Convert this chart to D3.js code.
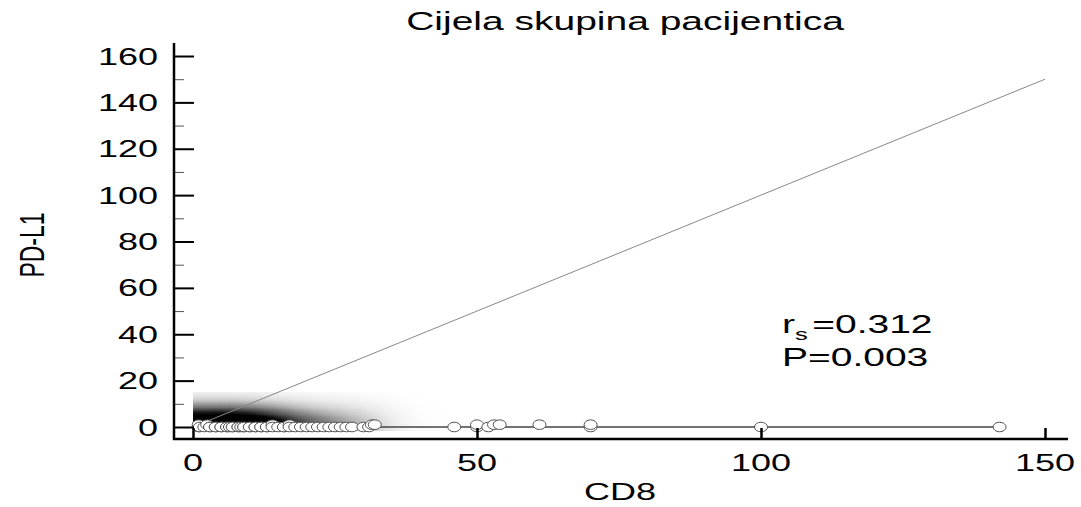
<!DOCTYPE html>
<html>
<head>
<meta charset="utf-8">
<script src="https://cdn.jsdelivr.net/npm/d3@7"></script>
<style>
    body { margin: 0; background: #fff; }
    svg text { font-family: "Liberation Sans", Arial, sans-serif; fill: #000; }
</style>
</head>
<body>
<svg id="chart" width="1081" height="507"></svg>
<script>
    // values (several patients overlap at low CD8)
    var cd8 = [1, 1, 1.2, 2, 2.5, 3, 3, 4, 4, 5, 5, 6, 6, 6.5, 7, 7, 8, 8, 8.5, 9, 9, 10, 10, 11, 11, 12, 12,
               13, 13, 14, 14, 15, 16, 16, 17, 17, 18, 19, 20, 21, 22, 23, 24, 25, 26, 27, 28, 30, 31, 31.5, 32,
               46, 50, 50, 52, 53, 54, 61, 70, 70, 100, 142];
    var pdl1 = [0, 1, 0, 0, 1, 0, 0, 0, 0, 0, 0, 0, 0, 0, 0, 0, 0, 0, 0, 0, 0, 0, 0, 0, 0, 0, 0,
                0, 0, 1, 0, 0, 0, 0, 1, 0, 0, 0, 0, 0, 0, 0, 0, 0, 0, 0, 0, 0, 0, 1, 1,
                0, 0, 1, 0, 1, 1, 1, 0, 1, 0, 0];
    var xTicks = [0, 50, 100, 150];
    var yTicks = [0, 20, 40, 60, 80, 100, 120, 140, 160];
    var yMinor = [10, 30, 50, 70, 90, 110, 130, 150];
    var title = "Cijela skupina pacijentica",
        xLabel = "CD8",
        yLabel = "PD-L1",
        rsText = "=0.312",
        pText = "P=0.003";

    var svg = d3.select("#chart"),
        STRETCH = 1.5;

    var x = d3.scaleLinear().domain([0, 150]).range([193, 1045]),
        y = d3.scaleLinear().domain([0, 160]).range([427, 56]);

    var axisX = 174, axisY = 439;

    // text that looks pulled wide like the original
    function wideText(parent, px, py, str, size, anchor) {
        return parent.append("text")
            .attr("transform", "translate(" + px + "," + py + ") scale(" + STRETCH + ",1)")
            .attr("text-anchor", anchor || "start")
            .style("font-size", size + "px")
            .text(str);
    }

    // density shading of the main cluster, kernel reflected at both axes
    var sx = 5.5, sy = 7.5, cellW = 0.5, cellH = 0.5, cells = [];
    var gx, gy, i, d, maxD = 0;
    function kern(u, v) { return Math.exp(-0.5 * (u * u + v * v)); }
    for (gx = 0; gx < 45; gx += cellW) {
        for (gy = -1.5; gy < 15; gy += cellH) {
            d = 0;
            var cx = gx + cellW / 2, cy = Math.max(0, gy + cellH / 2);
            for (i = 0; i < cd8.length; i++) {
                if (cd8[i] > 40) { continue; }
                var ax = (cx - cd8[i]) / sx, bx = (cx + cd8[i]) / sx,
                    ay = (cy - pdl1[i]) / sy, by = (cy + pdl1[i]) / sy;
                d += kern(ax, ay) + kern(bx, ay) + kern(ax, by) + kern(bx, by);
            }
            maxD = Math.max(maxD, d);
            cells.push({x: gx, y: gy, d: d});
        }
    }
    svg.append("g").attr("class", "density")
        .selectAll("rect").data(cells).enter().append("rect")
        .attr("x", function (c) { return x(c.x); })
        .attr("y", function (c) { return y(c.y + cellH); })
        .attr("width", x(cellW) - x(0) + 0.6)
        .attr("height", y(0) - y(cellH) + 0.6)
        .attr("fill", function (c) {
            var t = c.d / maxD;
            return d3.interpolateGreys(Math.min(1, 1.45 * Math.pow(t, 1.2)));
        });

    // identity line
    svg.append("line")
        .attr("x1", x(0)).attr("y1", y(0))
        .attr("x2", x(150)).attr("y2", y(150))
        .attr("stroke", "#888").attr("stroke-width", 1);

    // horizontal line along PD-L1 = 0
    svg.append("line")
        .attr("x1", x(0)).attr("y1", y(0))
        .attr("x2", x(d3.max(cd8))).attr("y2", y(0))
        .attr("stroke", "#444").attr("stroke-width", 1.3);

    // points
    svg.append("g").attr("class", "points")
        .selectAll("ellipse").data(cd8).enter().append("ellipse")
        .attr("cx", function (v) { return x(v); })
        .attr("cy", function (v, k) { return y(pdl1[k]); })
        .attr("rx", 6.5).attr("ry", 4.8)
        .attr("fill", "#fff")
        .attr("stroke", "#555")
        .attr("stroke-width", 1);

    // y axis
    var gy1 = svg.append("g").attr("transform", "translate(" + axisX + ",0)")
        .call(d3.axisLeft(y).tickValues(yTicks).tickSizeInner(-20).tickSizeOuter(0));
    gy1.select(".domain").remove();
    gy1.selectAll(".tick line").attr("stroke", "#000").attr("stroke-width", 2);
    gy1.selectAll(".tick text").remove();
    yTicks.forEach(function (t) {
        wideText(svg, 158, y(t) + 8.5, String(t), 24, "end");
    });
    var gy2 = svg.append("g").attr("transform", "translate(" + axisX + ",0)")
        .call(d3.axisLeft(y).tickValues(yMinor).tickSizeInner(-10).tickSizeOuter(0).tickFormat(""));
    gy2.select(".domain").remove();
    gy2.selectAll(".tick line").attr("stroke", "#555").attr("stroke-width", 1);

    svg.append("line")
        .attr("x1", axisX).attr("y1", 43)
        .attr("x2", axisX).attr("y2", axisY + 1)
        .attr("stroke", "#000").attr("stroke-width", 2.5);

    // x axis
    var gx1 = svg.append("g").attr("transform", "translate(0," + axisY + ")")
        .call(d3.axisBottom(x).tickValues(xTicks).tickSizeInner(-11).tickSizeOuter(0));
    gx1.select(".domain").remove();
    gx1.selectAll(".tick line").attr("stroke", "#000").attr("stroke-width", 2.5);
    gx1.selectAll(".tick text").remove();
    xTicks.forEach(function (t) {
        wideText(svg, x(t), 471, String(t), 24, "middle");
    });
    svg.append("line")
        .attr("x1", axisX - 1).attr("y1", axisY)
        .attr("x2", 1068).attr("y2", axisY)
        .attr("stroke", "#000").attr("stroke-width", 2.5);

    // titles
    wideText(svg, 625, 30, title, 26, "middle");
    wideText(svg, 620, 500, xLabel, 24, "middle");
    svg.append("text")
        .attr("transform", "translate(44,245) scale(" + STRETCH + ",1) rotate(-90)")
        .attr("text-anchor", "middle")
        .style("font-size", "23px")
        .text(yLabel);

    // statistics
    var rs = wideText(svg, 782, 333, "r", 26, "start");
    rs.append("tspan").attr("dy", 7).style("font-size", "17px").text("s");
    rs.append("tspan").attr("dy", -7).attr("dx", 3).text(rsText);
    wideText(svg, 782, 366, pText, 26, "start");
</script>
</body>
</html>
